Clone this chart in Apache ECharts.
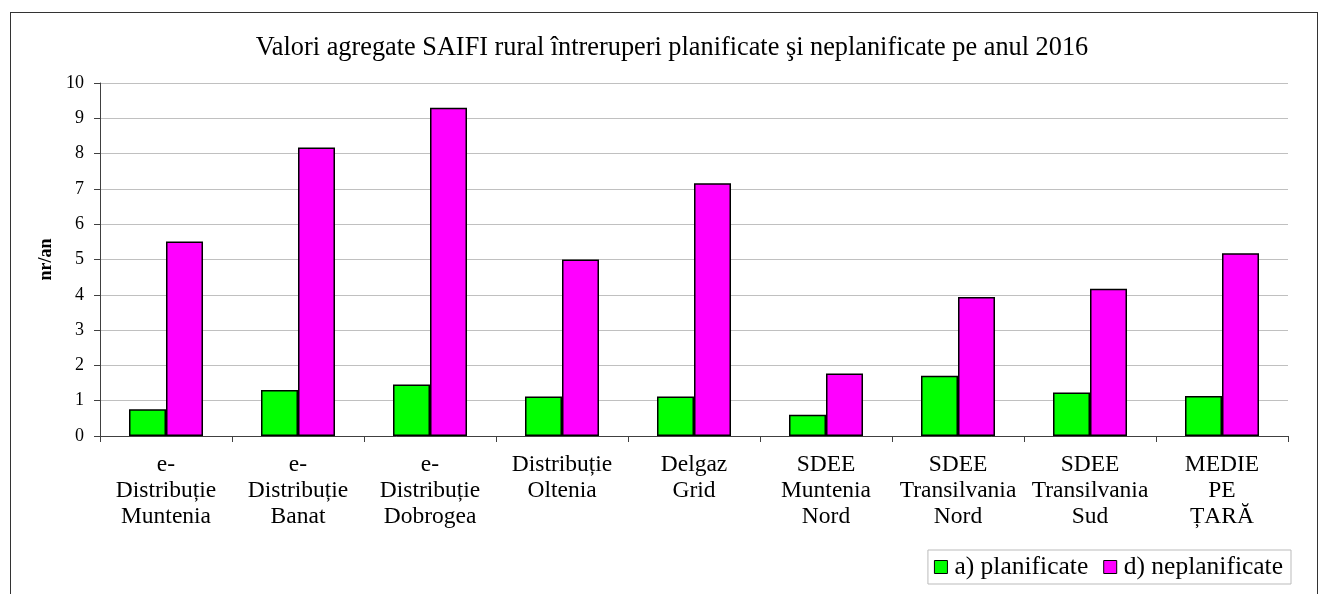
<!DOCTYPE html>
<html>
<head>
<meta charset="utf-8">
<script src="https://cdn.jsdelivr.net/npm/echarts@6/dist/echarts.min.js"></script>
<style>
html,body{margin:0;padding:0;background:#fff;}
#frame{position:absolute;left:10px;top:12px;width:1308px;height:620px;border:1px solid #333;box-sizing:border-box;}
#chart{position:absolute;left:0;top:0;width:1320px;height:594px;}
</style>
</head>
<body>
<div id="frame"></div>
<div id="chart"></div>
<script>
const titleText = 'Valori agregate SAIFI rural întreruperi planificate şi neplanificate pe anul 2016';
const categories = [
  'e-\nDistribuție\nMuntenia',
  'e-\nDistribuție\nBanat',
  'e-\nDistribuție\nDobrogea',
  'Distribuție\nOltenia',
  'Delgaz\nGrid',
  'SDEE\nMuntenia\nNord',
  'SDEE\nTransilvania\nNord',
  'SDEE\nTransilvania\nSud',
  'MEDIE\nPE\nȚARĂ'
];
const seriesNames = ['a) planificate', 'd) neplanificate'];
const planificate = [0.76, 1.30, 1.46, 1.12, 1.12, 0.60, 1.71, 1.23, 1.13];
const neplanificate = [5.51, 8.17, 9.30, 5.00, 7.16, 1.77, 3.94, 4.17, 5.18];
const yTicks = [0, 1, 2, 3, 4, 5, 6, 7, 8, 9, 10];

const FONT = '"Liberation Serif", "Times New Roman", serif';
const chart = echarts.init(document.getElementById('chart'), null, {renderer: 'canvas'});
chart.setOption({
  animation: false,
  backgroundColor: 'transparent',
  title: {
    text: titleText,
    left: 667, top: 30,
    textAlign: 'center',
    textStyle: {fontFamily: FONT, fontSize: 26.3, fontWeight: 'normal', color: '#000'}
  },
  legend: {
    right: 29, top: 550,
    orient: 'horizontal',
    icon: 'rect',
    itemWidth: 13, itemHeight: 13,
    itemGap: 15,
    padding: [4, 8, 4, 6],
    borderColor: '#bbb', borderWidth: 1,
    itemStyle: {borderColor: '#000', borderWidth: 1},
    textStyle: {fontFamily: FONT, fontSize: 25.5, color: '#000', padding: [0, 0, 0, 2]},
    data: seriesNames
  },
  grid: {left: 100, right: 32, top: 83, bottom: 158, containLabel: false},
  xAxis: {
    type: 'category',
    data: categories,
    axisLine: {lineStyle: {color: '#404040', width: 1}},
    axisTick: {show: true, length: 6, lineStyle: {color: '#404040'}},
    axisLabel: {fontFamily: FONT, fontSize: 23.5, color: '#000', lineHeight: 26, margin: 16, interval: 0}
  },
  yAxis: {
    type: 'value',
    min: yTicks[0], max: yTicks[yTicks.length - 1], interval: 1,
    name: 'nr/an',
    nameLocation: 'middle',
    nameGap: 40,
    nameTextStyle: {fontFamily: FONT, fontSize: 18, fontWeight: 'bold', color: '#000'},
    axisLine: {show: true, lineStyle: {color: '#404040', width: 1}},
    axisTick: {show: true, length: 6, inside: false, lineStyle: {color: '#404040'}},
    axisLabel: {fontFamily: FONT, fontSize: 18, color: '#000', margin: 16},
    splitLine: {lineStyle: {color: '#c0c0c0', width: 1}}
  },
  series: [
    {
      name: seriesNames[0], type: 'bar', data: planificate,
      barWidth: 37, barGap: '0%',
      itemStyle: {color: '#00ff00', borderColor: '#000', borderWidth: 1.5}
    },
    {
      name: seriesNames[1], type: 'bar', data: neplanificate,
      barWidth: 37, barGap: '0%',
      itemStyle: {color: '#ff00ff', borderColor: '#000', borderWidth: 1.5}
    }
  ]
});
</script>
</body>
</html>
